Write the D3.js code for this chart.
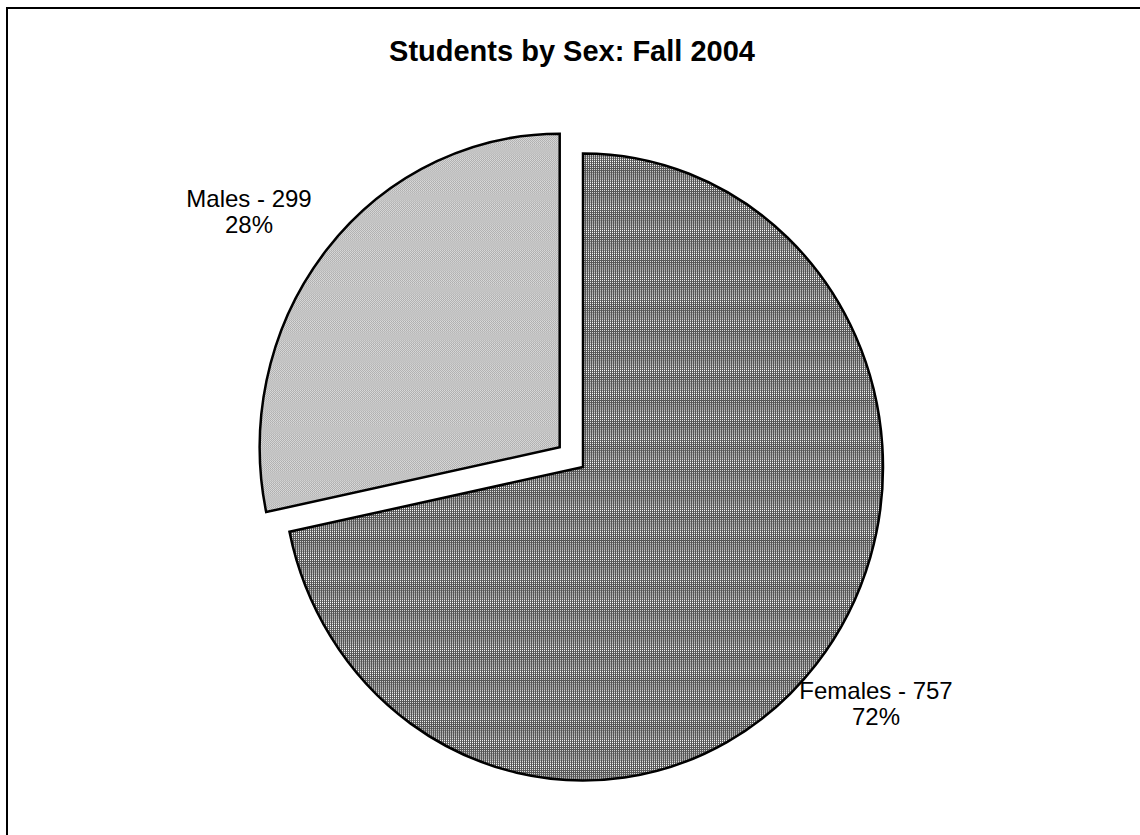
<!DOCTYPE html>
<html>
<head>
<meta charset="utf-8">
<script src="https://cdn.jsdelivr.net/npm/d3@7"></script>
<style>
html,body{margin:0;padding:0;background:#fff;}
svg{display:block;}
</style>
</head>
<body>
<div id="chart"></div>
<script>
const categories = ["Females", "Males"];
const values = [757, 299];
const percentLabels = ["72%", "28%"];
const titleText = "Students by Sex: Fall 2004";

const W = 1140, H = 835;
const svg = d3.select("#chart").append("svg").attr("width", W).attr("height", H);
const defs = svg.append("defs");

// Females: dark grid with white dots
const pF = defs.append("pattern").attr("id", "patF").attr("patternUnits", "userSpaceOnUse")
  .attr("width", 2).attr("height", 2);
pF.append("rect").attr("width", 2).attr("height", 2).attr("fill", "#555");
pF.append("rect").attr("x", 1).attr("y", 1).attr("width", 1).attr("height", 1).attr("fill", "#fff");

// Males: light checkerboard
const pM = defs.append("pattern").attr("id", "patM").attr("patternUnits", "userSpaceOnUse")
  .attr("width", 2).attr("height", 2);
pM.append("rect").attr("width", 2).attr("height", 2).attr("fill", "#fff");
pM.append("rect").attr("x", 0).attr("y", 0).attr("width", 1).attr("height", 1).attr("fill", "#888");
pM.append("rect").attr("x", 1).attr("y", 1).attr("width", 1).attr("height", 1).attr("fill", "#888");

const fills = ["url(#patF)", "url(#patM)"];

// outer border
svg.append("rect").attr("x", 7).attr("y", 8).attr("width", W).attr("height", H)
  .attr("fill", "none").attr("stroke", "#000").attr("stroke-width", 2);

svg.append("text").attr("x", 572).attr("y", 61).attr("text-anchor", "middle")
  .attr("font-family", "Liberation Sans, Arial, sans-serif").attr("font-weight", "bold")
  .attr("font-size", 29).text(titleText);

const cx = 583, cy = 467, r = 300, sy = 1.045, explode = 30;
const pie = d3.pie().sort(null).value(d => d)(values);
const arc = d3.arc().innerRadius(0).outerRadius(r);

const g = svg.append("g").attr("transform", `translate(${cx},${cy}) scale(1,${sy})`);
pie.forEach((p, i) => {
  const mid = (p.startAngle + p.endAngle) / 2;
  const off = i === 1 ? explode : 0;
  const dx = Math.sin(mid) * off, dy = -Math.cos(mid) * off;
  g.append("path").attr("d", arc(p)).attr("transform", `translate(${dx},${dy})`)
    .attr("fill", fills[i]).attr("stroke", "#000").attr("stroke-width", 2.5)
    .attr("vector-effect", "non-scaling-stroke")
    .attr("stroke-linejoin", "miter");
});

// labels
const labelPos = [[876, 699], [249, 207]];
pie.forEach((p, i) => {
  const t = svg.append("text").attr("text-anchor", "middle")
    .attr("font-family", "Liberation Sans, Arial, sans-serif").attr("font-size", 24);
  t.append("tspan").attr("x", labelPos[i][0]).attr("y", labelPos[i][1])
    .text(`${categories[i]} - ${values[i]}`);
  t.append("tspan").attr("x", labelPos[i][0]).attr("y", labelPos[i][1] + 26)
    .text(percentLabels[i]);
});
</script>
</body>
</html>
